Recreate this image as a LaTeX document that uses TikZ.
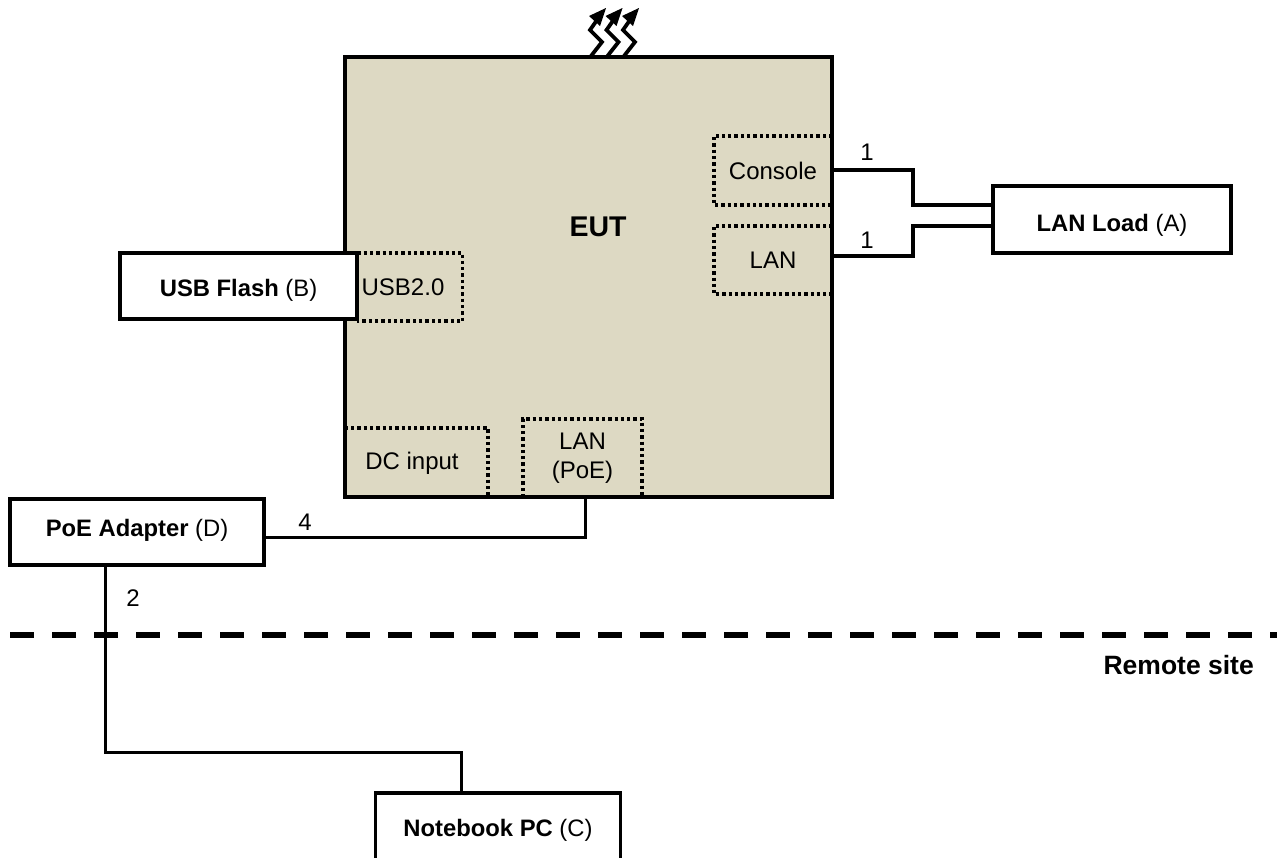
\documentclass[tikz,border=0pt]{standalone}
\usepackage{fontspec}
\setmainfont{Liberation Sans}
\definecolor{eutfill}{RGB}{221,217,195}
\tikzset{
  box/.style={draw=black,line width=3.5pt,fill=white,inner sep=0pt},
  boxtext/.style={inner sep=0pt,font=\fontsize{23.8}{28}\selectfont},
  port/.style={inner sep=0pt,align=center,font=\fontsize{24}{29}\selectfont},
  dotline/.style={line width=3.5pt,dash pattern=on 3.3pt off 3pt,black},
  cable/.style={line width=3.8pt,line join=miter,black},
  thincable/.style={line width=3pt,line join=miter,black},
  num/.style={inner sep=0pt,font=\fontsize{24}{28}\selectfont},
  zig/.style={line width=3.8pt,line join=miter,black},
  head/.style={fill=black,draw=none}
}
\begin{document}
\begin{tikzpicture}[x=1pt,y=-1pt]
\useasboundingbox (0,0) rectangle (1277,857);
\clip (0,0) rectangle (1277,857);
% wavy emission arrows
\foreach \d/\n in {0/a,16.5/b,33/c}{
  \begin{scope}[xshift=\d pt]
    \draw[zig] (591,56) -- (602,42) -- (590,30) -- (597,20);
    \fill[head] (606,8) -- (589,16) -- (600,26) -- cycle;
  \end{scope}
}
% EUT
\node[draw=black,line width=3.5pt,fill=eutfill,minimum width=487pt,minimum height=440pt,inner sep=0pt] (eut) at (588.5,277) {};
\node[inner sep=0pt,font=\bfseries\fontsize{28.5}{32}\selectfont] (euttext) at (598,227) {EUT};
% ports
\node[port,minimum width=118pt,minimum height=69pt] (console) at (773,170.5) {Console};
\node[port,minimum width=118pt,minimum height=68pt] (lan) at (773,260) {LAN};
\node[port,minimum width=105pt,minimum height=68pt] (usb) at (410,287) {};
\node[port] (usbtext) at (403,287) {USB2.0};
\node[port,minimum width=143pt,minimum height=69pt] (dc) at (416.5,462.5) {};
\node[port] (dctext) at (412,463) {DC input};
\node[port,minimum width=119pt,minimum height=78pt] (poe) at (582.5,458) {LAN\\(PoE)};
\draw[dotline] (console.north east) -- (console.north west) -- (console.south west) -- (console.south east);
\draw[dotline] (lan.north east) -- (lan.north west) -- (lan.south west) -- (lan.south east);
\draw[dotline] (usb.north west) -- (usb.north east) -- (usb.south east) -- (usb.south west);
\draw[dotline] (dc.north west) -- (dc.north east) -- (dc.south east);
\draw[dotline] (poe.south west) -- (poe.north west) -- (poe.north east) -- (poe.south east);
% devices
\node[box,minimum width=238pt,minimum height=67pt] (load) at (1112,219.5) {};
\node[boxtext] (loadtext) at (1112,225) {\textbf{LAN Load} (A)};
\node[box,minimum width=237pt,minimum height=66pt] (flash) at (238.5,286) {};
\node[boxtext] (flashtext) at (238.5,290) {\textbf{USB Flash} (B)};
\node[box,minimum width=254pt,minimum height=66pt] (adapter) at (137,532) {};
\node[boxtext] (adaptertext) at (137,530) {\textbf{PoE Adapter} (D)};
\node[box,minimum width=245pt,minimum height=74pt] (pc) at (498,830) {};
\node[boxtext] (pctext) at (498,830) {\textbf{Notebook PC} (C)};
% connectors
\coordinate (j1) at (913,170);
\coordinate (j2) at (913,205);
\coordinate (j3) at (913,256);
\coordinate (j4) at (913,226);
\draw[cable] (console.east |- j1) -- (j1) -- (j2) -- (load.west |- j2);
\draw[cable] (lan.east |- j3) -- (j3) -- (j4) -- (load.west |- j4);
\coordinate (j5) at (585,537);
\draw[thincable] (eut.south -| j5) -- (j5) -- (adapter.east |- j5);
\coordinate (j6) at (105,752);
\coordinate (j7) at (461,752);
\draw[thincable] (adapter.south -| j6) -- (j6) -- (j7) -- (pc.north -| j7);
% site divider
\coordinate (sl) at (10,635);
\coordinate (sr) at (1277,635);
\draw[line width=6pt,dash pattern=on 24pt off 18pt,black] (sl) -- (sr);
% labels
\node[num] (n1) at (867,152) {1};
\node[num] (n2) at (867,240) {1};
\node[num] (n3) at (305,522) {4};
\node[num] (n4) at (133,598) {2};
\node[inner sep=0pt,anchor=east,font=\bfseries\fontsize{26.5}{30}\selectfont] (remote) at (1254,665) {Remote site};
\end{tikzpicture}
\end{document}
